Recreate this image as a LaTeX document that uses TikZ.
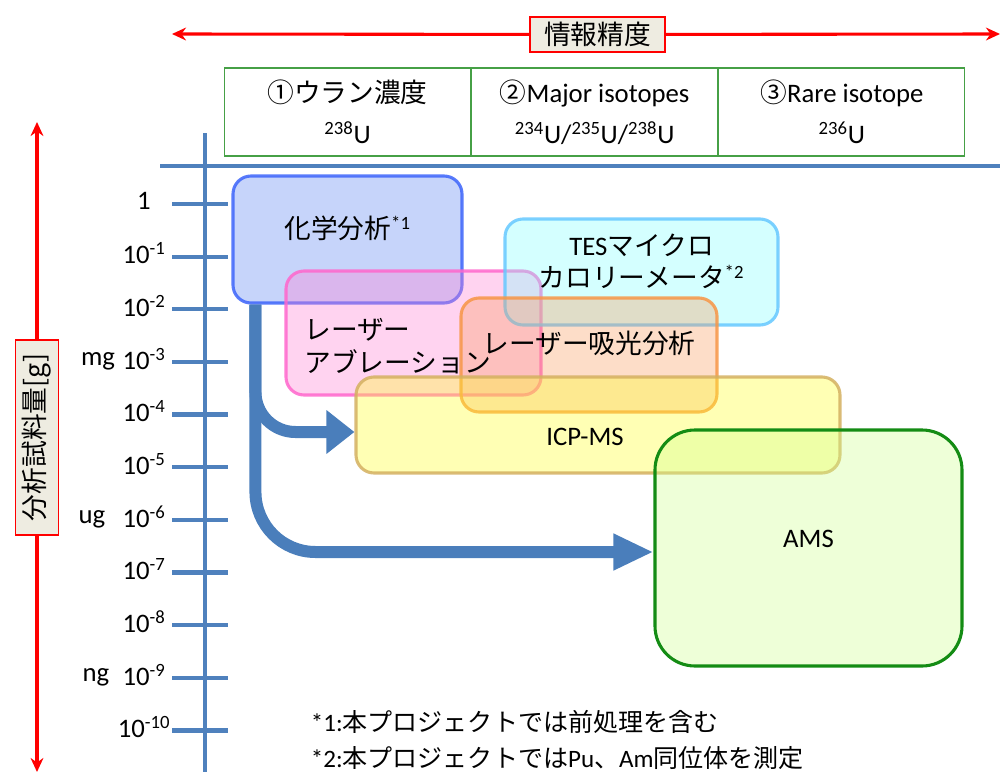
\documentclass[tikz,border=0pt]{standalone}
\usepackage{fontspec}
\setmainfont{Carlito}
\newfontfamily\jp{Noto Sans CJK JP}
\usetikzlibrary{arrows.meta,positioning,fit}

\definecolor{axisblue}{RGB}{79,129,189}
\definecolor{flowblue}{RGB}{74,126,187}
\definecolor{labelbg}{RGB}{238,236,225}
\definecolor{headgreen}{RGB}{70,160,70}
\definecolor{chemline}{RGB}{60,100,250}
\definecolor{chemfill}{RGB}{92,132,241}
\definecolor{ablline}{RGB}{255,102,204}
\definecolor{ablfill}{RGB}{255,128,212}
\definecolor{tesline}{RGB}{102,200,255}
\definecolor{tesfill}{RGB}{132,255,255}
\definecolor{absline}{RGB}{247,150,70}
\definecolor{absfill}{RGB}{249,158,98}
\definecolor{icpline}{RGB}{212,176,96}
\definecolor{icpfill}{RGB}{255,255,40}
\definecolor{amsline}{RGB}{20,140,20}
\definecolor{amsfill}{RGB}{206,255,144}

\begin{document}
\begin{tikzpicture}[x=0.025cm, y=-0.025cm,
    redline/.style={red, line width=2.2pt},
    axistag/.style={draw=red, line width=1pt, fill=labelbg, inner sep=0pt, font=\jp\fontsize{19}{23}\selectfont},
    headbox/.style={draw=headgreen, line width=0.8pt, minimum width=6.15cm, minimum height=2.2cm, inner sep=0pt, align=center, font=\fontsize{19}{29}\selectfont},
    axisline/.style={axisblue, line width=3pt},
    scalelabel/.style={font=\fontsize{19}{23}\selectfont},
    methodbox/.style={line width=2.2pt, rounded corners=0.45cm, inner sep=0pt, fill opacity=0.35, draw opacity=0.85, text opacity=1, align=center, font=\fontsize{19}{23}\selectfont},
    boxtext/.style={inner sep=0pt, font=\jp\fontsize{19}{23}\selectfont},
    flowarrow/.style={flowblue, line width=0.3cm}
  ]
    \useasboundingbox (0,0) rectangle (1008,776);

    % 情報精度
    \node[axistag, minimum width=3.375cm, minimum height=0.875cm] (xtag) at (597.5,34.5) {情報精度};
    \coordinate (xl) at (172,34);
    \coordinate (xr) at (1000,34);
    \draw[redline, -{Stealth[length=0.35cm,width=0.32cm]}] (xtag) -- (xl);
    \draw[redline, -{Stealth[length=0.35cm,width=0.32cm]}] (xtag) -- (xr);

    % 分析試料量
    \node[axistag, rotate=90, minimum width=4.875cm, minimum height=1.075cm] (ytag) at (37,437.5) {分析試料量[g]};
    \coordinate (yt) at (37,122);
    \coordinate (yb) at (37,772);
    \draw[redline, -{Stealth[length=0.35cm,width=0.32cm]}] (ytag) -- (yt);
    \draw[redline, -{Stealth[length=0.35cm,width=0.32cm]}] (ytag) -- (yb);

    % 見出し
    \node[headbox] (conc) at (347.5,112) {{\jp ①ウラン濃度}\\\textsuperscript{238}U};
    \node[headbox, right=0pt of conc] (major) {{\jp ②}Major isotopes\\\textsuperscript{234}U/\textsuperscript{235}U/\textsuperscript{238}U};
    \node[headbox, right=0pt of major] (rare) {{\jp ③}Rare isotope\\\textsuperscript{236}U};

    % 軸
    \draw[axisline] (160,166) -- (1000,166);
    \draw[axisline] (205,133) -- (205,772);
    \foreach \k in {0,...,10}
        \draw[axisline] (172,{204+52.65*\k}) -- (228,{204+52.65*\k});

    % 目盛り
    \node[scalelabel] (g0) at (144,201) {1};
    \node[scalelabel] (g1) at (144,253) {10\textsuperscript{-1}};
    \node[scalelabel] (g2) at (144,306) {10\textsuperscript{-2}};
    \node[scalelabel] (g3) at (144,359) {10\textsuperscript{-3}};
    \node[scalelabel] (g4) at (144,411) {10\textsuperscript{-4}};
    \node[scalelabel] (g5) at (144,464) {10\textsuperscript{-5}};
    \node[scalelabel] (g6) at (144,517) {10\textsuperscript{-6}};
    \node[scalelabel] (g7) at (144,569) {10\textsuperscript{-7}};
    \node[scalelabel] (g8) at (144,622) {10\textsuperscript{-8}};
    \node[scalelabel] (g9) at (144,675) {10\textsuperscript{-9}};
    \node[scalelabel] (g10) at (144,727) {10\textsuperscript{-10}};
    \node[scalelabel] (mg) at (98,361) {mg};
    \node[scalelabel] (ug) at (92,519) {ug};
    \node[scalelabel] (ng) at (96,677) {ng};

    % 分析手法
    \node[methodbox, draw=chemline, fill=chemfill, fit={(233,176) (462,303)}] (chem) {{\jp 化学分析}\textsuperscript{*1}};
    \node[methodbox, draw=ablline, fill=ablfill, fit={(286,271) (541,395)}] (abl) {};
    \node[methodbox, draw=tesline, fill=tesfill, fit={(505,219) (778,325)}] (tes) {TES{\jp マイクロ}\\{\jp カロリーメータ}\textsuperscript{*2}};
    \node[methodbox, draw=absline, fill=absfill, fit={(461,298) (717,412)}] (abs) {{\jp レーザー吸光分析}};
    \node[methodbox, draw=icpline, fill=icpfill, fit={(356,377) (840,473)}] (icp) {};
    \node[methodbox, draw=amsline, fill=amsfill, draw opacity=1, rounded corners=1cm, fit={(655,430) (962,666)}] (ams) {AMS};
    \node[boxtext, anchor=west, align=left] (ablt) at (304,346) {レーザー\\アブレーション};
    \node[boxtext, font=\fontsize{19}{23}\selectfont] (icpt) at (585,437) {ICP-MS};

    % 流れ
    \draw[flowarrow, rounded corners=1cm, -{Triangle[length=0.7cm,width=1.05cm]}] ([xshift=0.6cm]chem.south west) |- ([yshift=-0.175cm]icp.west);
    \draw[flowarrow, rounded corners=1.5cm, -{Triangle[length=1cm,width=0.85cm]}] ([xshift=0.6cm]chem.south west) |- ([yshift=-0.1cm]ams.west);

    % 注釈
    \node[anchor=west, align=left, font=\fontsize{17.8}{25}\selectfont] (notes) at (306,740) {*1:{\jp 本プロジェクトでは前処理を含む}\\*2:{\jp 本プロジェクトでは}Pu{\jp 、}Am{\jp 同位体を測定}};
\end{tikzpicture}
\end{document}
